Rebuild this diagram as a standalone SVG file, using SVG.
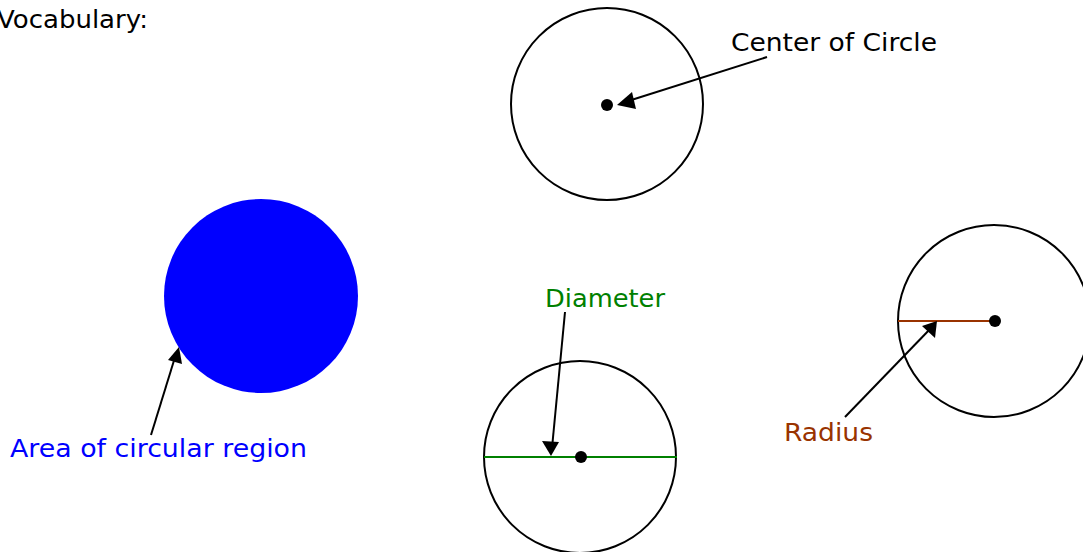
<svg xmlns="http://www.w3.org/2000/svg" width="1083" height="552" viewBox="0 0 1083 552">
<style>
text{font-family:"DejaVu Sans",Verdana,sans-serif;font-size:24px}
.ring{fill:none;stroke:#000;stroke-width:2}
.dot{fill:#000}
.conn{stroke:#000;stroke-width:2}
</style>
<rect width="1083" height="552" fill="#fff"/>
<text x="-3" y="28" fill="#000" textLength="151" lengthAdjust="spacingAndGlyphs">Vocabulary:</text>
<g id="center">
<circle class="ring" cx="607" cy="104" r="96"/>
<circle class="dot" cx="607" cy="105" r="6"/>
<text x="731" y="51" fill="#000" textLength="206" lengthAdjust="spacingAndGlyphs">Center of Circle</text>
</g>
<g id="area">
<circle cx="261" cy="296" r="97" fill="#0000ff"/>
<text x="10" y="457" fill="#0000ff" textLength="297" lengthAdjust="spacingAndGlyphs">Area of circular region</text>
</g>
<g id="diameter">
<circle class="ring" cx="580" cy="457" r="96"/>
<line x1="484" y1="457" x2="677" y2="457" stroke="#008000" stroke-width="2"/>
<circle class="dot" cx="581" cy="457" r="6"/>
<text x="545" y="307" fill="#008000" textLength="120" lengthAdjust="spacingAndGlyphs">Diameter</text>
</g>
<g id="radius">
<circle class="ring" cx="994" cy="321" r="96"/>
<line x1="898" y1="321" x2="994" y2="321" stroke="#993300" stroke-width="2"/>
<circle class="dot" cx="995" cy="321" r="6"/>
<text x="784" y="441" fill="#993300" textLength="89" lengthAdjust="spacingAndGlyphs">Radius</text>
</g>
<g id="connectors">
<line class="conn" x1="767" y1="57" x2="625" y2="102"/>
<polygon points="617,105 632,92 636,109" fill="#000"/>
<line class="conn" x1="151" y1="435" x2="176" y2="354"/>
<polygon points="179,347 182,364 168,360" fill="#000"/>
<line class="conn" x1="565" y1="312" x2="552" y2="448"/>
<polygon points="551,456 542,441 559,442" fill="#000"/>
<line class="conn" x1="845" y1="417" x2="932" y2="327"/>
<polygon points="937,321 935,338 922,326" fill="#000"/>
</g>
</svg>
